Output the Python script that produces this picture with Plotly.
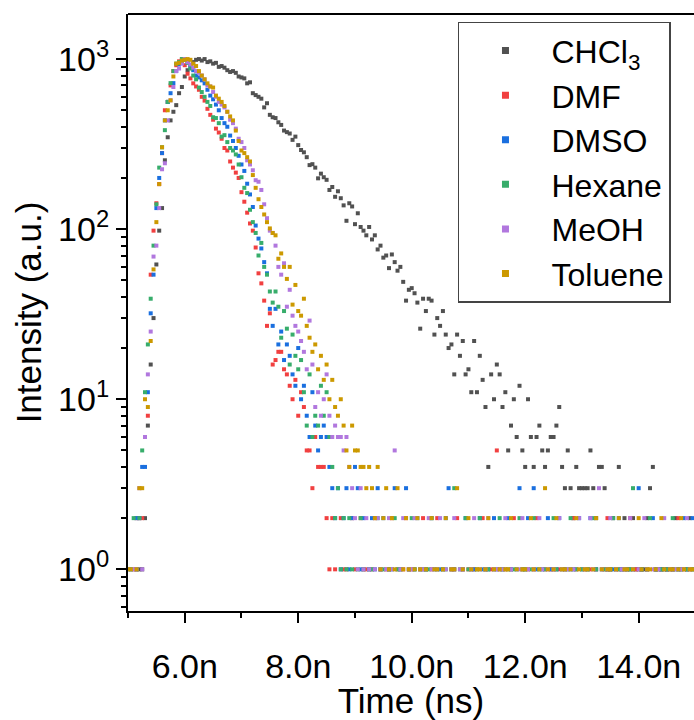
import numpy as np
import plotly.graph_objects as go

# TCSPC channel grid (ns), 0.05 ns per channel
time_ns = np.round(5.0 + 0.05 * np.arange(200), 2)

series_names = ["CHCl<sub>3</sub>", "DMF", "DMSO", "Hexane", "MeOH", "Toluene"]
series_colors = ["#515151", "#F14040", "#1A6FDF", "#37AD6B", "#B177DE", "#CC9900"]

chcl3 = [0,0,0,1,1,1,2,7,16,30,
         62,98,133,254,347,436,490,536,630,685,
         790,860,920,960,990,1000,980,1000,960,970,
         940,950,900,910,890,860,840,850,830,790,
         780,770,720,730,630,614,600,585,520,550,
         470,455,450,425,410,380,372,365,335,350,
         312,292,283,265,238,241,230,199,212,202,
         195,170,177,155,167,152,138,112,142,136,
         107,124,103,98,92,103,87,92,76,80,
         68,70,59,71,64,57,60,49,38,44,
         45,42,37,26,39,33,39,38,24,30,
         27,33,24,20,21,14,24,18,22,14,
         15,11,22,11,18,13,9,4,14,10,
         16,14,9,11,5,7,10,6,12,5,
         4,10,6,4,6,7,5,4,5,6,
         6,7,9,4,3,5,3,2,4,3,
         3,3,3,5,3,2,4,4,3,1,
         1,2,1,4,1,2,1,1,2,1,
         1,1,1,2,3,4,1,1,1,1,
         1,1,1,2,1,1,0,1,2,1]

dmf = [0,0,1,2,2,2,6,8,54,98,
       142,184,280,500,560,700,850,920,970,1000,
       920,820,770,720,690,660,600,570,510,470,
       440,390,370,340,300,290,250,230,215,200,
       165,145,125,108,98,78,55,48,38,27,
       32,16,17,19,19,15,14,12,10,13,
       8,11,9,5,5,3,6,4,4,4,
       2,1,2,1,0,2,1,1,0,2,
       1,0,2,1,1,0,1,2,0,1,
       0,1,1,2,0,1,0,1,2,1,
       1,0,0,1,2,1,0,1,0,2,
       0,1,0,0,1,1,2,0,1,0,
       1,0,1,0,0,2,1,0,1,0,
       5,1,0,1,0,1,2,0,0,1,
       0,1,0,1,2,0,0,1,0,1,
       1,0,1,0,1,0,0,2,1,0,
       0,1,0,1,0,1,0,0,1,2,
       1,0,0,1,0,1,0,2,0,1,
       0,1,0,1,0,0,1,0,1,0,
       1,0,1,0,2,0,1,0,1,0]

dmso = [0,1,0,2,2,4,4,11,32,54,
        133,200,280,436,560,630,722,850,930,980,
        1000,960,900,860,800,780,750,720,660,610,
        580,540,500,450,420,400,355,330,300,270,
        240,220,185,160,135,105,88,77,64,55,
        34,27,34,21,25,17,21,18,14,12,
        20,10,12,8,6,11,7,5,6,7,
        6,4,3,2,3,1,2,3,1,2,
        4,3,1,2,0,1,2,1,3,1,
        2,0,1,1,3,0,1,0,3,1,
        0,1,2,0,1,1,0,2,1,0,
        1,0,2,3,0,1,0,0,1,2,
        0,1,1,0,2,1,0,1,0,2,
        1,0,1,0,2,1,0,1,3,0,
        1,2,0,3,1,0,1,0,2,1,
        0,1,2,0,1,0,1,1,0,2,
        1,0,1,2,0,1,0,1,0,1,
        0,1,0,2,1,0,1,0,1,0,
        3,1,0,1,0,2,1,0,1,0,
        1,0,1,0,1,0,2,1,0,2]

hexane = [1,1,2,1,2,5,11,21,39,80,
          140,230,303,382,560,722,850,940,960,1000,
          990,950,880,800,760,680,640,600,560,530,
          455,450,420,350,357,325,300,290,275,240,
          202,175,163,130,110,95,70,83,60,54,
          43,37,43,35,23,33,26,16,24,18,
          15,17,11,7,14,6,8,7,12,8,
          11,6,4,2,3,1,2,1,2,1,
          0,1,2,1,0,1,1,0,2,1,
          1,0,1,0,2,1,1,0,0,1,
          2,1,0,1,0,1,1,2,0,1,
          0,1,1,0,1,3,0,1,0,2,
          1,0,0,1,2,0,1,1,0,1,
          0,2,1,0,1,0,1,0,2,1,
          1,0,1,2,0,1,0,1,0,0,
          2,1,0,1,0,1,2,0,1,0,
          1,0,1,0,2,1,0,0,1,0,
          1,2,0,1,0,1,0,1,3,0,
          0,1,0,1,2,0,1,0,1,0,
          1,0,2,1,0,1,0,1,0,1]

meoh = [1,0,1,1,3,1,6,14,25,69,
        80,133,225,244,436,572,685,850,880,940,
        1000,960,930,890,850,830,800,760,700,690,
        640,600,560,540,520,490,440,420,390,340,
        325,300,254,240,222,194,190,170,140,116,
        98,95,80,60,54,63,35,44,31,27,
        25,22,19,15,29,16,9,11,8,10,
        14,8,6,7,6,6,5,6,4,3,
        2,1,3,1,2,1,0,1,2,1,
        0,1,2,1,5,0,1,2,0,1,
        1,2,0,1,1,0,2,1,0,1,
        2,0,1,0,1,2,0,1,1,0,
        0,1,2,0,1,0,1,2,0,1,
        1,0,1,2,0,1,0,0,1,2,
        0,1,0,1,0,2,1,0,1,0,
        1,0,2,1,0,1,0,1,0,2,
        0,1,0,2,1,0,3,1,0,1,
        2,0,1,0,1,1,0,2,1,0,
        1,0,2,1,0,1,0,1,0,2,
        0,1,0,1,0,1,0,2,1,0]

toluene = [1,1,0,1,3,3,10,9,22,58,
           110,184,303,436,500,572,790,940,950,980,
           990,1000,990,940,910,850,800,760,720,690,
           680,610,585,560,530,490,460,436,380,330,
           290,280,265,250,208,175,150,135,122,110,
           101,95,92,67,72,60,51,60,36,47,
           33,31,39,27,23,19,21,15,18,13,
           16,10,13,9,8,10,7,5,4,7,
           5,5,4,4,3,4,3,2,4,1,
           2,3,1,2,1,3,0,1,2,1,
           0,1,2,1,0,1,0,2,1,1,
           0,1,2,0,1,1,3,0,1,0,
           2,1,0,1,1,0,1,2,0,1,
           0,1,0,1,1,2,0,1,0,1,
           1,0,2,1,0,1,0,3,1,0,
           1,2,0,1,1,0,1,0,2,1,
           0,1,1,0,1,2,0,1,0,1,
           1,0,1,2,0,1,1,0,1,0,
           2,1,0,1,1,0,1,0,2,1,
           0,1,1,0,1,2,1,0,1,1]

series_counts = [chcl3, dmf, dmso, hexane, meoh, toluene]

x_tick_vals = [6, 8, 10, 12, 14]
x_tick_text = ["6.0n", "8.0n", "10.0n", "12.0n", "14.0n"]
x_minor_vals = [5, 7, 9, 11, 13, 15]
y_tick_vals = [1, 10, 100, 1000]
y_tick_text = ["10<sup>0</sup>", "10<sup>1</sup>", "10<sup>2</sup>", "10<sup>3</sup>"]
y_minor_vals = [m * 10.0 ** e for e in range(-1, 4) for m in range(2, 10)
                if 0.57 < m * 10.0 ** e < 1800]

FONT = "Liberation Sans, Arial, sans-serif"

fig = go.Figure()
for name, color, counts in zip(series_names, series_colors, series_counts):
    assert len(counts) == len(time_ns)
    y = [c if c > 0 else None for c in counts]
    fig.add_trace(go.Scatter(
        x=time_ns, y=y, mode="markers", name=name, showlegend=False,
        marker=dict(symbol="square", size=4, color=color, line=dict(width=0)),
    ))
# legend entries (larger symbols as in the reference)
for name, color in zip(series_names, series_colors):
    fig.add_trace(go.Scatter(
        x=[None], y=[None], mode="markers", name=name, showlegend=True,
        marker=dict(symbol="square", size=7, color=color, line=dict(width=0)),
    ))

fig.update_layout(
    width=694, height=720,
    margin=dict(l=128, r=0, t=14, b=109),
    paper_bgcolor="white", plot_bgcolor="white",
    font=dict(family=FONT, color="black", size=34),
    legend=dict(
        x=0.583, y=0.987, xanchor="left", yanchor="top",
        bordercolor="#444444", borderwidth=1.5, bgcolor="white",
        font=dict(family=FONT, size=32, color="black"),
        itemwidth=82, tracegroupgap=0,
        entrywidth=215, entrywidthmode="pixels",
    ),
    shapes=[dict(type="line", xref="paper", yref="paper", x0=0, x1=1, y0=1, y1=1,
                 line=dict(color="black", width=2))],
)
fig.update_xaxes(
    range=[5, 14.975], showgrid=False, zeroline=False,
    showline=True, linecolor="black", linewidth=2, mirror=False,
    tickmode="array", tickvals=x_tick_vals, ticktext=x_tick_text,
    ticks="outside", ticklen=10, tickwidth=2, tickcolor="black",
    ticklabelstandoff=14,
    tickfont=dict(family=FONT, size=34, color="black"),
    minor=dict(tickmode="array", tickvals=x_minor_vals, ticks="outside",
               ticklen=5, tickwidth=1.5, tickcolor="black", showgrid=False),
    title=dict(text="Time (ns)", font=dict(family=FONT, size=35, color="black"), standoff=6),
)
fig.update_yaxes(
    type="log", range=[-0.245, 3.265], showgrid=False, zeroline=False,
    showline=True, linecolor="black", linewidth=2, mirror=False,
    tickmode="array", tickvals=y_tick_vals, ticktext=y_tick_text,
    ticks="outside", ticklen=10, tickwidth=2, tickcolor="black",
    tickfont=dict(family=FONT, size=34, color="black"),
    minor=dict(tickmode="array", tickvals=y_minor_vals, ticks="outside",
               ticklen=5, tickwidth=1.5, tickcolor="black", showgrid=False),
    title=dict(text="Intensity (a.u.)", font=dict(family=FONT, size=35, color="black"), standoff=6),
)

fig.write_html("out.html")
